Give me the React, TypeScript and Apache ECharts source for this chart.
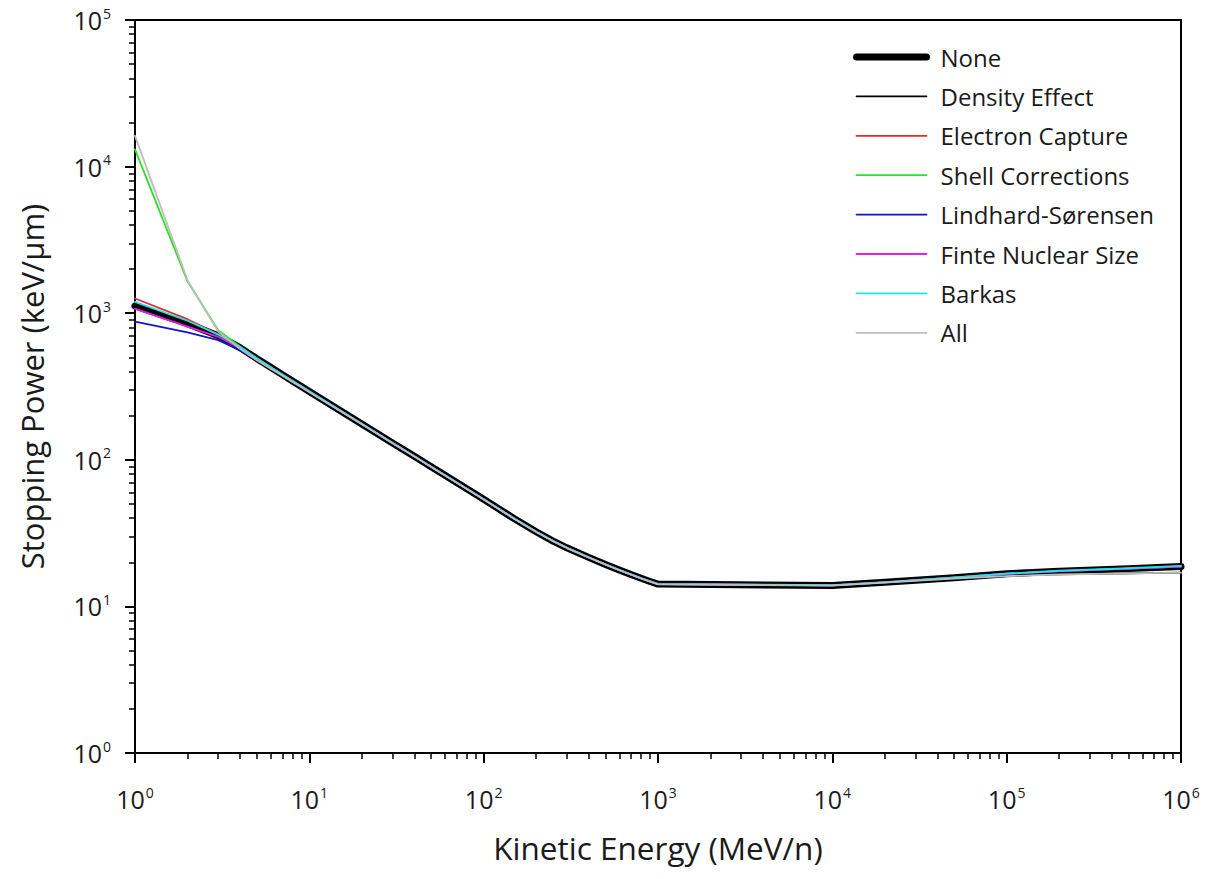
import React, { useEffect, useRef } from "react";
import * as echarts from "echarts";

// Kinetic energy (MeV/n)
const energy = [1, 2, 3, 4, 5, 6, 7, 8, 9, 10, 20, 30, 40, 50, 60, 70, 80, 90, 100, 150, 200, 250, 300, 400, 500, 600, 700, 800, 900, 1000, 10000, 20000, 50000, 100000, 200000, 500000, 1000000];

// Stopping power (keV/µm), one list per correction
const noneValues = [1120, 847, 702, 582, 490, 428, 381, 345, 316, 292, 175.7, 130.4, 105.6, 89.6, 78.4, 70.0, 63.4, 58.2, 53.8, 39.6, 32.3, 27.9, 25.1, 21.6, 19.3, 17.7, 16.5, 15.55, 14.8, 14.2, 13.9, 14.6, 15.7, 16.7, 17.4, 18.1, 18.7];
const densityValues = [1120, 847, 702, 582, 490, 428, 381, 345, 316, 292, 175.7, 130.4, 105.6, 89.6, 78.4, 70.0, 63.4, 58.2, 53.8, 39.6, 32.3, 27.9, 25.1, 21.6, 19.3, 17.7, 16.5, 15.55, 14.8, 14.2, 13.85, 14.55, 15.5, 16.1, 16.5, 16.8, 17.0];
const electronCaptureValues = [1260, 910, 718, 590, 492, 428, 381, 345, 316, 292, 175.7, 130.4, 105.6, 89.6, 78.4, 70.0, 63.4, 58.2, 53.8, 39.6, 32.3, 27.9, 25.1, 21.6, 19.3, 17.7, 16.5, 15.55, 14.8, 14.2, 13.9, 14.6, 15.7, 16.7, 17.4, 18.1, 18.7];
const shellValues = [13100, 1650, 765, 592, 488, 426, 380, 345, 316, 292, 175.7, 130.4, 105.6, 89.6, 78.4, 70.0, 63.4, 58.2, 53.8, 39.6, 32.3, 27.9, 25.1, 21.6, 19.3, 17.7, 16.5, 15.55, 14.8, 14.2, 13.9, 14.6, 15.7, 16.7, 17.4, 18.1, 18.7];
const lindhardValues = [875, 740, 655, 560, 480, 424, 379, 344, 315, 291, 175.7, 130.4, 105.6, 89.6, 78.4, 70.0, 63.4, 58.2, 53.8, 39.6, 32.3, 27.9, 25.1, 21.6, 19.3, 17.7, 16.5, 15.55, 14.8, 14.2, 13.9, 14.6, 15.7, 16.7, 17.4, 18.1, 18.7];
const finiteValues = [1075, 810, 690, 578, 487, 427, 381, 345, 316, 292, 175.7, 130.4, 105.6, 89.6, 78.4, 70.0, 63.4, 58.2, 53.8, 39.6, 32.3, 27.9, 25.1, 21.6, 19.3, 17.7, 16.5, 15.55, 14.8, 14.2, 13.9, 14.6, 15.7, 16.7, 17.4, 18.1, 18.7];
const barkasValues = [1195, 888, 715, 590, 493, 430, 382, 346, 317, 293, 176, 130.6, 105.8, 89.8, 78.5, 70.1, 63.5, 58.3, 53.9, 39.7, 32.4, 28.0, 25.2, 21.65, 19.35, 17.75, 16.55, 15.6, 14.85, 14.25, 13.95, 14.65, 15.75, 16.75, 17.5, 18.2, 18.9];
const allValues = [16200, 1680, 750, 572, 478, 418, 374, 340, 312, 289, 174.5, 129.8, 105.2, 89.3, 78.2, 69.8, 63.2, 58.0, 53.6, 39.5, 32.2, 27.8, 25.0, 21.55, 19.25, 17.65, 16.45, 15.5, 14.75, 14.15, 13.85, 14.55, 15.5, 16.1, 16.5, 16.8, 17.0];

const seriesNames = ["None", "Density Effect", "Electron Capture", "Shell Corrections", "Lindhard-Sørensen", "Finte Nuclear Size", "Barkas", "All"];
const seriesValues = [noneValues, densityValues, electronCaptureValues, shellValues, lindhardValues, finiteValues, barkasValues, allValues];
const seriesColors = ["#000000", "#000000", "#e52b2b", "#2ee02e", "#1414c8", "#e81ee8", "#1ee6f0", "#bdbdbd"];
const seriesWidths = [7, 1.6, 1.8, 1.8, 1.8, 1.8, 1.8, 1.8];

const FONT = "Open Sans";
const TEXT = "#1a1a1a";

const expLabel = (v: number) => `{b|10}{s|${Math.round(Math.log10(v))}}`;

const richLabel = {
  b: { fontSize: 25, fontFamily: FONT, color: TEXT, lineHeight: 28 },
  s: { fontSize: 14, fontFamily: FONT, color: TEXT, lineHeight: 16, verticalAlign: "top", padding: [0, 0, 0, 1] },
};

export default function App() {
  const ref = useRef<HTMLDivElement>(null);
  useEffect(() => {
    const chart = echarts.init(ref.current!, null, { renderer: "svg" });
    const series = seriesNames.map((name, i) => ({
      name,
      type: "line",
      data: energy.map((e, k) => [e, seriesValues[i][k]]),
      symbol: "none",
      showSymbol: false,
      smooth: false,
      silent: true,
      lineStyle: { color: seriesColors[i], width: seriesWidths[i], cap: "round", join: "round" },
      itemStyle: { color: seriesColors[i] },
      emphasis: { disabled: true },
      z: 2 + i,
    }));
    chart.setOption({
      animation: false,
      backgroundColor: "#ffffff",
      grid: { left: 135, right: 24, top: 20, bottom: 126, show: true, borderColor: "#000", borderWidth: 2, containLabel: false },
      legend: {
        data: seriesNames.map((name, i) => ({
          name,
          lineStyle: { width: seriesWidths[i], color: seriesColors[i], cap: "round" },
          itemStyle: { opacity: 0 },
        })),
        orient: "vertical",
        left: 848,
        top: 40,
        itemWidth: 70,
        itemHeight: 24,
        itemGap: 15.4,
        selectedMode: false,
        itemStyle: { opacity: 0 },
        textStyle: { fontFamily: FONT, fontSize: 24, color: TEXT, lineHeight: 24, padding: [0, 0, 0, 9] },
      },
      xAxis: {
        type: "log",
        logBase: 10,
        min: 1,
        max: 1000000,
        splitNumber: 6,
        name: "Kinetic Energy (MeV/n)",
        nameLocation: "middle",
        nameGap: 78,
        nameTextStyle: { fontFamily: FONT, fontSize: 31.5, color: TEXT },
        axisLine: { show: true, lineStyle: { color: "#000", width: 2 } },
        axisTick: { show: true, length: 10, lineStyle: { color: "#000", width: 2 } },
        minorTick: { show: true, splitNumber: 9, length: 6, lineStyle: { color: "#000", width: 1.5 } },
        splitLine: { show: false },
        axisLabel: { margin: 32, formatter: expLabel, rich: richLabel },
      },
      yAxis: {
        type: "log",
        logBase: 10,
        min: 1,
        max: 100000,
        splitNumber: 5,
        name: "Stopping Power (keV/µm)",
        nameLocation: "middle",
        nameGap: 88,
        nameTextStyle: { fontFamily: FONT, fontSize: 31, color: TEXT },
        axisLine: { show: true, lineStyle: { color: "#000", width: 2 } },
        axisTick: { show: true, length: 10, lineStyle: { color: "#000", width: 2 } },
        minorTick: { show: true, splitNumber: 9, length: 6, lineStyle: { color: "#000", width: 1.5 } },
        splitLine: { show: false },
        axisLabel: { margin: 24, formatter: expLabel, rich: richLabel },
      },
      series,
    });
    return () => chart.dispose();
  }, []);
  return <div ref={ref} style={{ position: "absolute", left: 0, top: 0, width: 1205, height: 879 }} />;
}
